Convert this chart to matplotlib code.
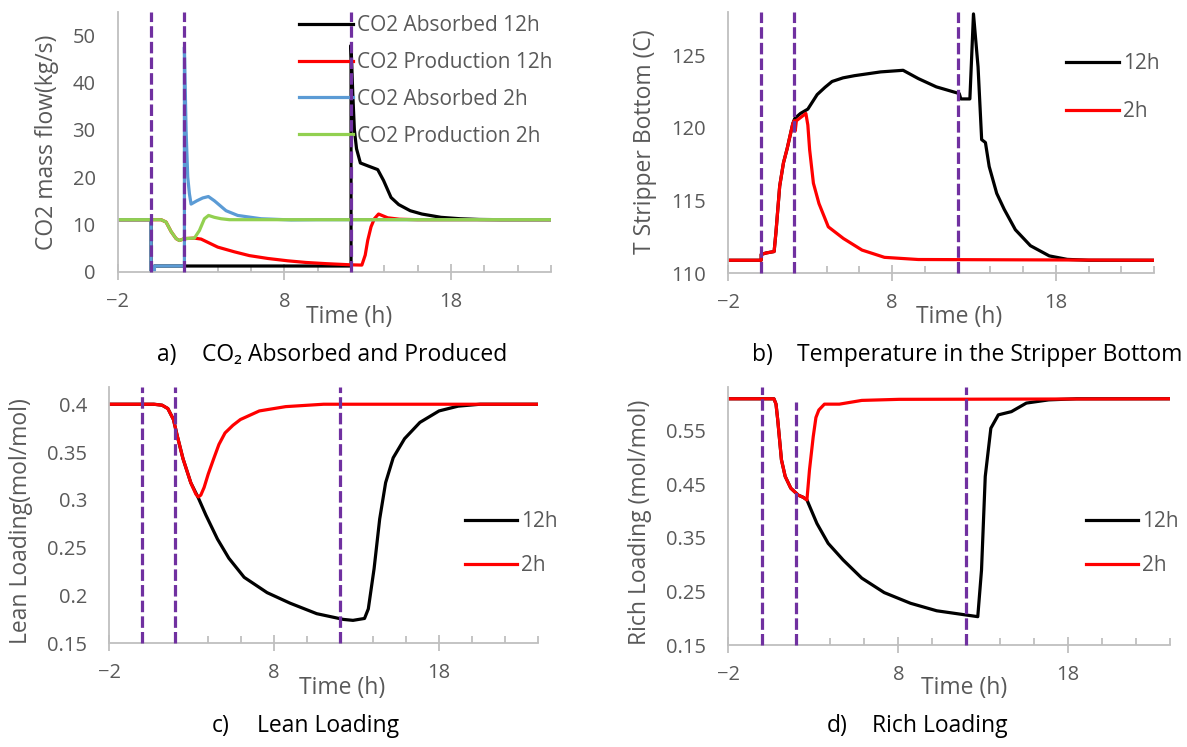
import numpy as np
import matplotlib
matplotlib.use("Agg")
import matplotlib.pyplot as plt

plt.rcParams["font.family"] = ["Open Sans", "DejaVu Sans"]

# ---- data (time in h) ----
# a) CO2 absorbed / produced (kg/s)
t_abs12 = [-2, 0, 0, 0.2, 0.2, 12, 12, 12.1, 12.2, 12.33, 12.56, 13.0, 13.6, 13.95, 14.4,
           14.86, 15.55, 16.25, 17.4, 18.55, 19.7, 21, 24]
abs12 = [11, 11, 0, 0, 1.2, 1.2, 47.9, 38, 30, 26, 23, 22.4, 21.6, 19.3, 15.7,
         14.2, 12.9, 12.2, 11.5, 11.2, 11.05, 11, 11]
t_prod12 = [-2, 0.6, 0.9, 1.2, 1.5, 1.7, 2.0, 2.6, 3.0, 4.0, 5.0, 5.9, 7.0, 8.2, 9.3, 10.5,
            12.0, 12.65, 12.85, 13.0, 13.2, 13.4, 13.65, 14.2, 14.9, 16, 24]
prod12 = [11, 11, 10.5, 8.5, 7.0, 6.6, 7.0, 7.1, 6.9, 5.2, 4.2, 3.4, 2.8, 2.3, 1.95, 1.7,
          1.45, 1.4, 3.5, 6.6, 9.5, 11.2, 12.2, 11.4, 11.1, 11, 11]
t_abs2 = [-2, 0, 0, 0.2, 0.2, 2, 2, 2.1, 2.2, 2.3, 2.4, 2.75, 3.1, 3.44, 3.8, 4.5, 5.2,
          6.6, 8.4, 10, 24]
abs2 = [11, 11, 0, 0, 1.2, 1.2, 47.5, 30, 20, 16.5, 14.3, 15.0, 15.6, 15.9, 15.0, 12.9, 11.9,
        11.2, 10.95, 11, 11]
t_prod2 = [-2, 0.6, 0.9, 1.2, 1.5, 1.7, 2.0, 2.6, 2.9, 3.2, 3.45, 3.8, 4.2, 4.7, 6, 24]
prod2 = [11, 11, 10.5, 8.5, 7.0, 6.6, 7.0, 7.1, 8.7, 11.2, 11.9, 11.5, 11.2, 11.0, 11, 11]

# b) stripper bottom temperature (C)
t_temp12 = [-2, 0, 0, 0.3, 0.79, 0.9, 1.13, 1.36, 1.59, 1.93, 2.05, 2.4, 2.85, 3.42, 3.9,
            4.33, 5.0, 5.7, 7.3, 8.67, 9.6, 10.7, 12.1, 12.2, 12.75, 12.97, 13.25, 13.47,
            13.7, 13.93, 14.39, 14.85, 15.53, 16.45, 17.6, 18.7, 20, 24]
temp12 = [110.9, 110.9, 111.3, 111.4, 111.5, 112.8, 116, 117.6, 118.6, 120.3, 120.66, 121.0,
          121.3, 122.3, 122.8, 123.2, 123.45, 123.6, 123.86, 123.97, 123.4, 122.83, 122.37,
          122.0, 122.0, 127.85, 124.2, 119.2, 119.0, 117.35, 115.5, 114.4, 113.0, 111.9,
          111.2, 110.96, 110.9, 110.9]
t_temp2 = [-2, 0, 0, 0.3, 0.79, 0.9, 1.13, 1.36, 1.59, 1.93, 2.02, 2.08, 2.15, 2.5, 2.73,
           2.85, 2.96, 3.19, 3.53, 4.1, 5.02, 6.16, 7.53, 9.6, 24]
temp2 = [110.9, 110.9, 111.3, 111.4, 111.5, 112.8, 116, 117.6, 118.6, 120.3, 120.5, 119.8,
         120.5, 120.8, 121.0, 120.2, 118.5, 116.2, 114.8, 113.2, 112.4, 111.6, 111.1,
         110.95, 110.9]

# c) lean loading (mol/mol)
t_lean12 = [-2, 0.7, 1.2, 1.55, 1.89, 2.12, 2.47, 2.94, 3.4, 3.86, 4.56, 5.25, 6.18, 7.57,
            8.96, 10.58, 12.2, 12.78, 13.48, 13.71, 14.06, 14.4, 14.76, 15.22, 15.91, 16.84,
            18.0, 19.16, 20.5, 24]
lean12 = [0.4, 0.4, 0.399, 0.3955, 0.384, 0.367, 0.343, 0.318, 0.302, 0.284, 0.259, 0.239,
          0.219, 0.203, 0.192, 0.181, 0.175, 0.174, 0.176, 0.186, 0.228, 0.280, 0.318, 0.344,
          0.364, 0.381, 0.393, 0.398, 0.4, 0.4]
t_lean2 = [-2, 0.7, 1.2, 1.55, 1.89, 2.12, 2.47, 2.94, 3.25, 3.4, 3.55, 3.75, 4.0, 4.33,
           4.65, 5.02, 5.5, 5.95, 7.1, 8.7, 11, 24]
lean2 = [0.4, 0.4, 0.399, 0.3955, 0.384, 0.367, 0.343, 0.318, 0.306, 0.303, 0.305, 0.313,
         0.327, 0.343, 0.358, 0.370, 0.378, 0.384, 0.393, 0.3975, 0.4, 0.4]

# d) rich loading (mol/mol)
t_rich12 = [-2, 0.68, 0.8, 0.9, 1.12, 1.34, 1.67, 2.11, 2.4, 2.62, 3.21, 3.87, 4.75, 5.85,
            7.17, 8.72, 10.26, 12.02, 12.68, 12.9, 13.12, 13.45, 13.89, 14.66, 15.54, 16.86,
            18.5, 24]
rich12 = [0.61, 0.61, 0.60, 0.571, 0.496, 0.465, 0.443, 0.430, 0.426, 0.421, 0.377, 0.340,
          0.309, 0.275, 0.248, 0.228, 0.214, 0.206, 0.203, 0.290, 0.465, 0.555, 0.580, 0.586,
          0.602, 0.608, 0.61, 0.61]
t_rich2 = [-2, 0.68, 0.8, 0.9, 1.12, 1.34, 1.67, 2.11, 2.4, 2.62, 2.77, 2.99, 3.15, 3.32,
           3.65, 4.53, 5.85, 8.05, 24]
rich2 = [0.61, 0.61, 0.60, 0.571, 0.496, 0.465, 0.443, 0.430, 0.426, 0.421, 0.477, 0.539,
         0.575, 0.589, 0.600, 0.600, 0.607, 0.609, 0.61]

# event markers (h)
events = [0, 2, 12]
rich_event_tops = [None, 0.604, None]

GRAY = "#595959"
AXC = "#BFBFBF"
PURPLE = "#7030A0"
LW = 2.3
TICK_FS = 14.5
LABEL_FS = 16.5
LEG_FS = 15
CAP_FS = 16.5

fig = plt.figure(figsize=(11.87, 7.47), dpi=100)


def style(ax, ylim, yticks):
    ax.set_xlim(-2, 24)
    ax.set_ylim(*ylim)
    for s in ("top", "right"):
        ax.spines[s].set_visible(False)
    for s in ("left", "bottom"):
        ax.spines[s].set_color(AXC)
        ax.spines[s].set_linewidth(1.3)
    ax.set_xticks([-2, 8, 18])
    ax.set_xticks(np.arange(-2, 25, 2), minor=True)
    ax.tick_params(axis="x", which="major", direction="inout", length=11, width=1.3,
                   color=AXC, labelsize=TICK_FS, labelcolor=GRAY, pad=9)
    ax.tick_params(axis="x", which="minor", direction="in", length=5, width=1.3, color=AXC)
    ax.set_yticks(yticks)
    ax.set_yticklabels([f"{v:g}" for v in yticks])
    ax.tick_params(axis="y", length=0, labelsize=TICK_FS, labelcolor=GRAY, pad=16)


def events_on(ax, tops=None):
    lo, hi = ax.get_ylim()
    for i, t in enumerate(events):
        top = hi if tops is None or tops[i] is None else tops[i]
        ax.plot([t, t], [lo, top], color=PURPLE, lw=2.3, ls=(0, (3.6, 1.3)), zorder=6,
                clip_on=False)


def legend(ax, x, y, spacing, hl=2.6):
    leg = ax.legend(loc="upper left", bbox_to_anchor=(x / 1187, 1 - y / 747),
                    bbox_transform=fig.transFigure, frameon=False, fontsize=LEG_FS,
                    handlelength=hl, handletextpad=0.17, labelspacing=spacing,
                    borderpad=0, borderaxespad=0)
    for txt in leg.get_texts():
        txt.set_color(GRAY)
    return leg


def labels(ax, xl_pos, ylabel, yl_xy):
    ax.set_xlabel("Time (h)", fontsize=LABEL_FS, color=GRAY, va="center")
    ax.xaxis.set_label_coords(*xl_pos)
    fig.text(yl_xy[0] / 1187, 1 - yl_xy[1] / 747, ylabel, rotation=90, ha="center",
             va="center", fontsize=LABEL_FS, color=GRAY)


# a)
ax = fig.add_axes([0.0992, 0.6363, 0.365, 0.348])
ax.plot(t_abs12, abs12, color="black", lw=LW, label="CO2 Absorbed 12h")
ax.plot(t_prod12, prod12, color="#FF0000", lw=LW, label="CO2 Production 12h")
ax.plot(t_abs2, abs2, color="#5B9BD5", lw=LW, label="CO2 Absorbed 2h")
ax.plot(t_prod2, prod2, color="#92D050", lw=LW, label="CO2 Production 2h")
style(ax, (0, 55), [0, 10, 20, 30, 40, 50])
events_on(ax)
legend(ax, 299, 15, 0.76)
labels(ax, (0.534, -0.173), "CO2 mass flow(kg/s)", (47, 142))

# b)
ax = fig.add_axes([0.6137, 0.6341, 0.3585, 0.3502])
ax.plot(t_temp12, temp12, color="black", lw=LW, label="12h")
ax.plot(t_temp2, temp2, color="#FF0000", lw=LW, label="2h")
style(ax, (110, 128), [110, 115, 120, 125])
events_on(ax)
legend(ax, 1066, 53, 1.3, hl=2.55)
labels(ax, (0.542, -0.166), "T Stripper Bottom (C)", (645, 142))

# c)
ax = fig.add_axes([0.0921, 0.1388, 0.3611, 0.3431])
ax.plot(t_lean12, lean12, color="black", lw=LW, label="12h")
ax.plot(t_lean2, lean2, color="#FF0000", lw=LW, label="2h")
style(ax, (0.15, 0.418), [0.15, 0.2, 0.25, 0.3, 0.35, 0.4])
events_on(ax)
legend(ax, 465, 511, 1.12, hl=2.5)
labels(ax, (0.544, -0.174), "Lean Loading(mol/mol)", (21, 521))

# d)
ax = fig.add_axes([0.6137, 0.1365, 0.372, 0.3454])
ax.plot(t_rich12, rich12, color="black", lw=LW, label="12h")
ax.plot(t_rich2, rich2, color="#FF0000", lw=LW, label="2h")
style(ax, (0.15, 0.632), [0.15, 0.25, 0.35, 0.45, 0.55])
events_on(ax, rich_event_tops)
legend(ax, 1086, 511, 1.12, hl=2.5)
labels(ax, (0.533, -0.167), "Rich Loading (mol/mol)", (640, 522))

# captions
captions = [(157, 355, "a)", "CO\u2082 Absorbed and Produced"),
            (752, 355, "b)", "Temperature in the Stripper Bottom"),
            (212, 726, "c)", "Lean Loading"),
            (827, 726, "d)", "Rich Loading")]
for x, y, tag, txt in captions:
    fig.text(x / 1187, 1 - y / 747, tag, ha="left", va="center", fontsize=CAP_FS, color="black")
    fig.text((x + 45) / 1187, 1 - y / 747, txt, ha="left", va="center", fontsize=CAP_FS,
             color="black")

fig.savefig("out.png", dpi=100)
